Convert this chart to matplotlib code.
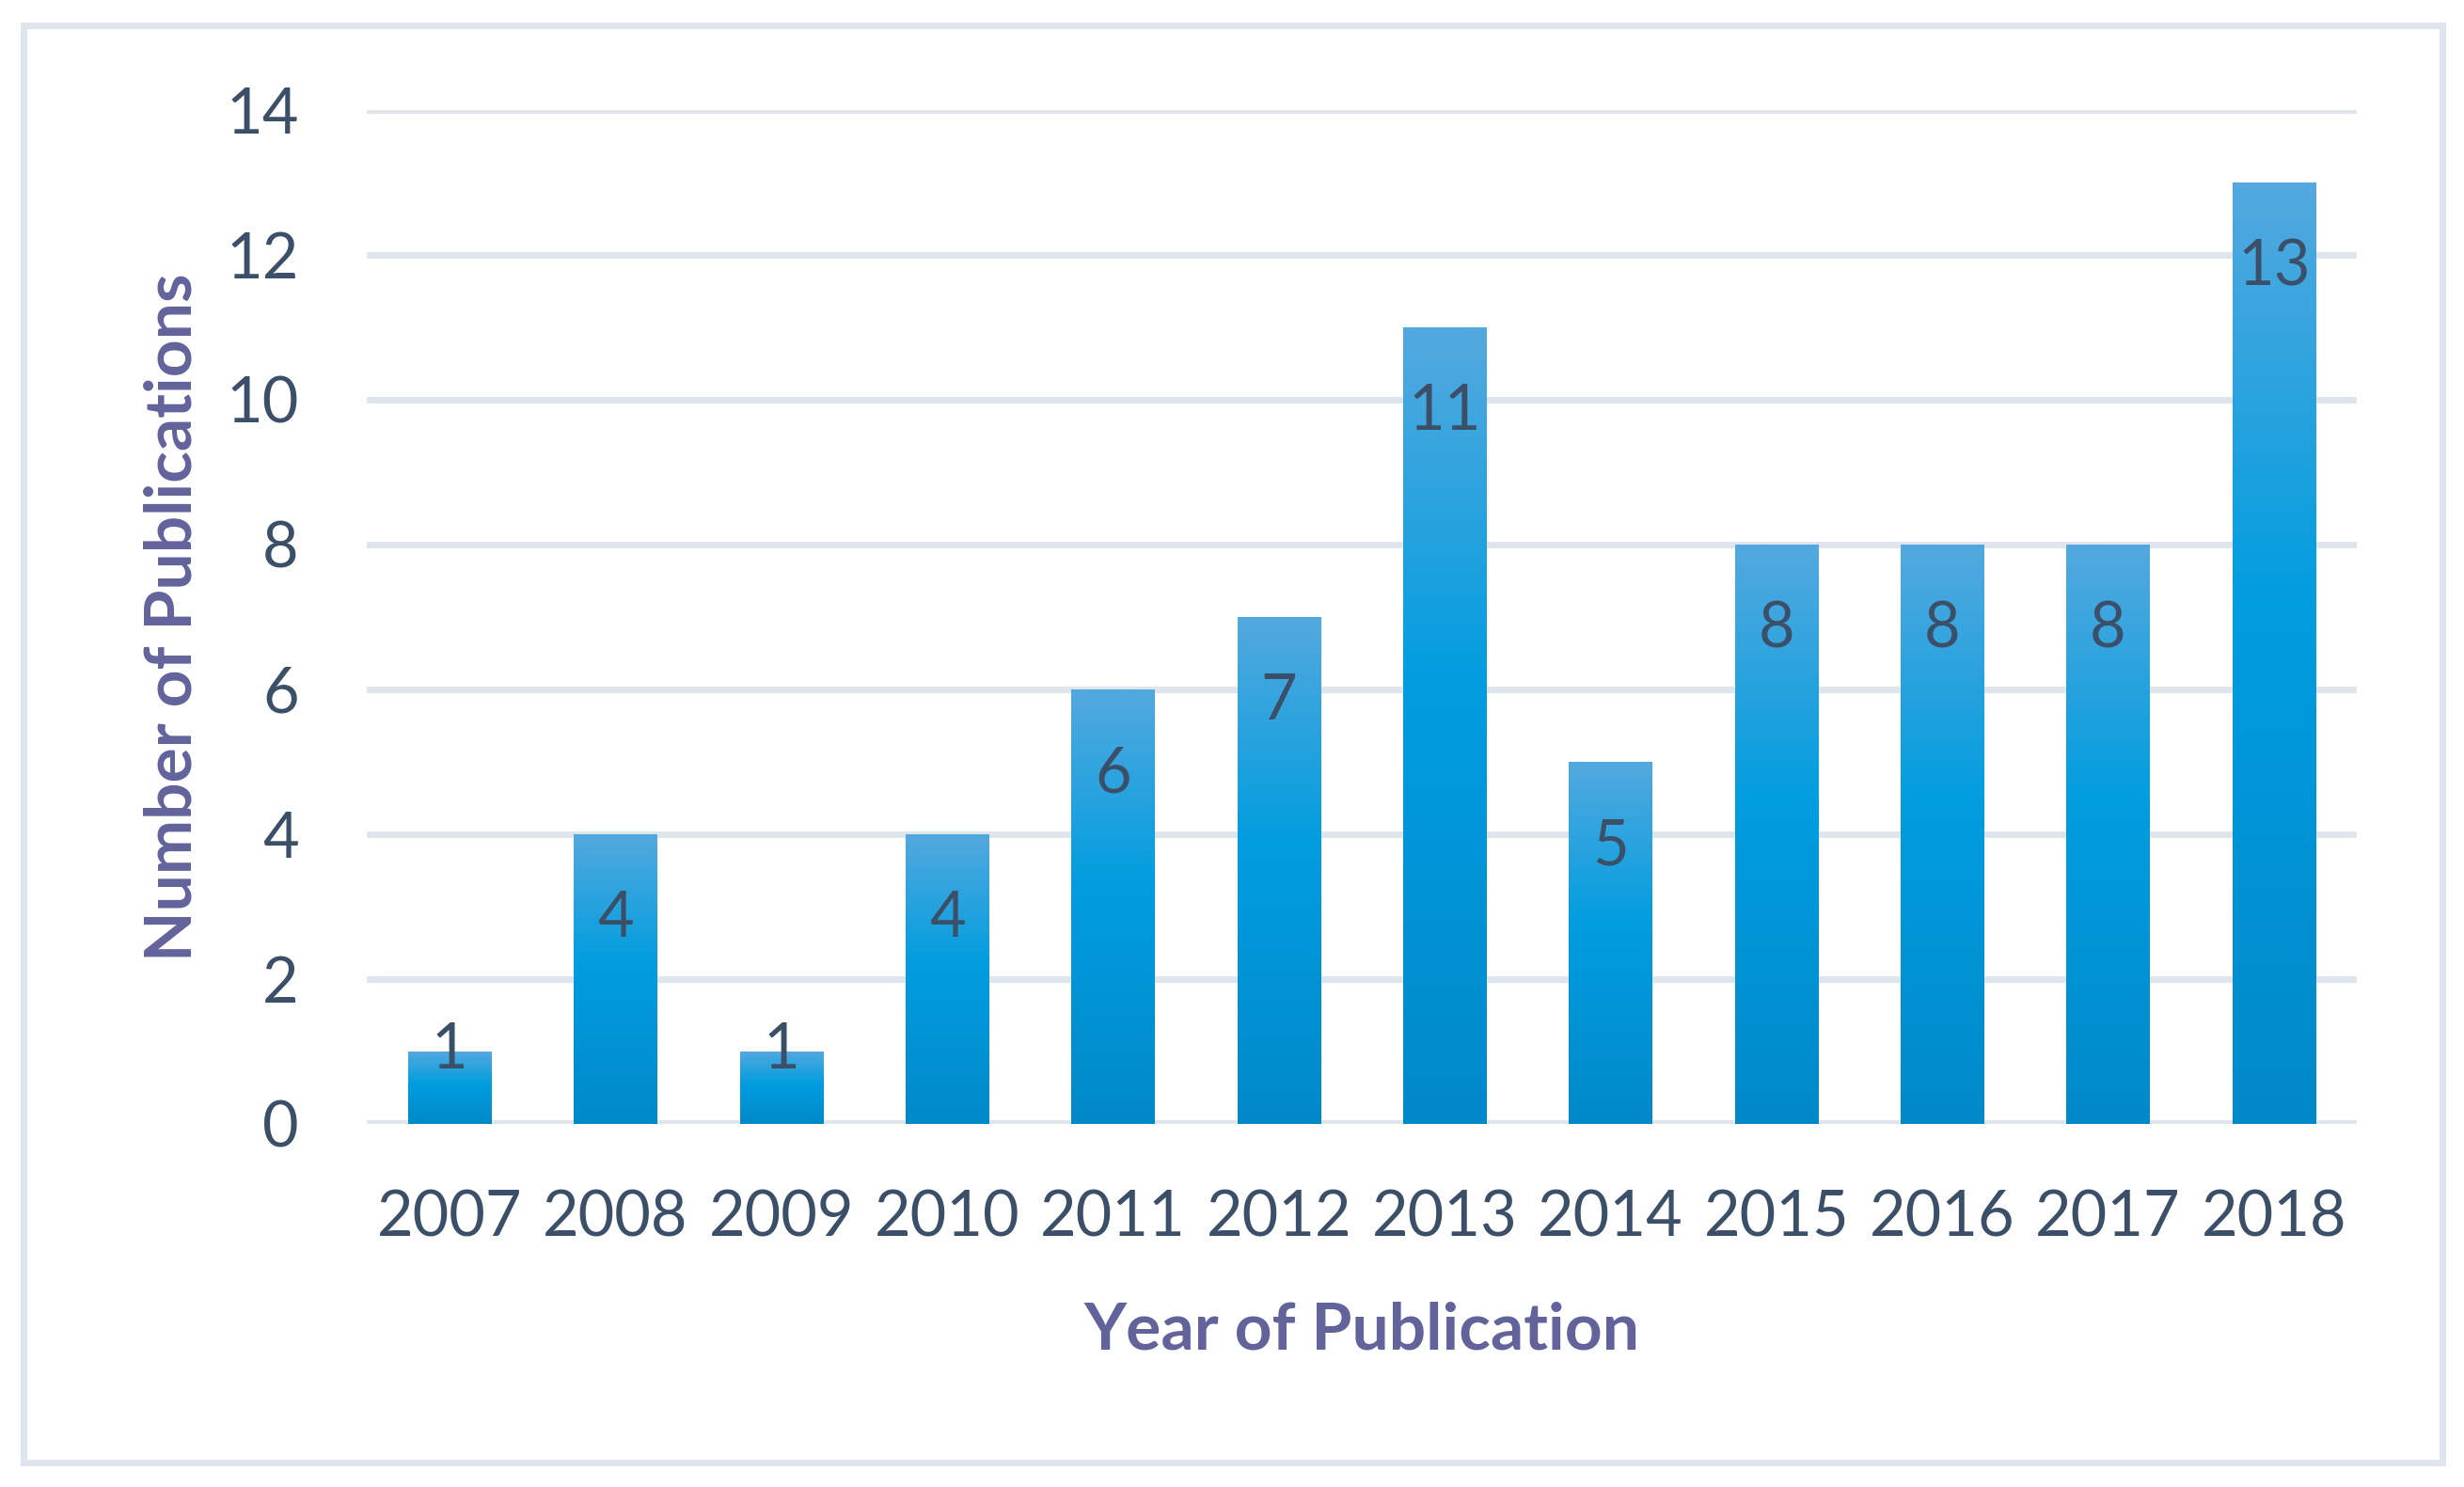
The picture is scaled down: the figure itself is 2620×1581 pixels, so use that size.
import numpy as np
import matplotlib
matplotlib.use('Agg')
import matplotlib.pyplot as plt
from matplotlib.colors import LinearSegmentedColormap
from matplotlib.patches import Rectangle

years = ['2007', '2008', '2009', '2010', '2011', '2012',
         '2013', '2014', '2015', '2016', '2017', '2018']
counts = [1, 4, 1, 4, 6, 7, 11, 5, 8, 8, 8, 13]
y_ticks = [0, 2, 4, 6, 8, 10, 12, 14]
x_title = 'Year of Publication'
y_title = 'Number of Publications'

plt.rcParams['font.family'] = ['Lato', 'DejaVu Sans']

W, H = 2620, 1581
fig = plt.figure(figsize=(W / 100, H / 100), dpi=100)
ax = fig.add_axes([390 / W, 1 - 1195 / H, (2506 - 390) / W, (1195 - 117) / H])

tick_color = '#3B5068'
title_color = '#62639B'
grid_color = '#DEE5EC'

x = np.arange(len(years))
bars = ax.bar(x, counts, width=0.5, color='none', edgecolor='none', zorder=3)

cmap = LinearSegmentedColormap.from_list(
    'barg', [(0.0, '#0089C9'), (0.55, '#009DDF'), (1.0, '#53A9DE')])
grad = np.linspace(0, 1, 256).reshape(-1, 1)
for b in bars:
    x0, y0 = b.get_x(), b.get_y()
    w, h = b.get_width(), b.get_height()
    im = ax.imshow(grad, extent=[x0, x0 + w, y0, y0 + h], origin='lower',
                   cmap=cmap, aspect='auto', zorder=3, interpolation='bilinear')
    im.set_clip_path(b)

ax.set_xlim(-0.5, len(years) - 0.5)
ax.set_ylim(0, 14)
ax.set_yticks(y_ticks)
ax.set_xticks(x)
ax.set_xticklabels(years)
ax.set_axisbelow(True)
ax.yaxis.grid(True, color=grid_color, lw=5.04, zorder=0)
ax.axhline(0, color=grid_color, lw=5.8, zorder=1)
for s in ax.spines.values():
    s.set_visible(False)
ax.tick_params(axis='both', length=0, labelsize=48, labelcolor=tick_color)
ax.tick_params(axis='y', pad=52)
ax.tick_params(axis='x', pad=50)

for xi, v in zip(x, counts):
    off = -78.5 if v >= 3 else -13
    ax.annotate(str(v), xy=(xi, v), xytext=(0, off), textcoords='offset points',
                ha='center', va='baseline', fontsize=48, color=tick_color, zorder=5)

fig.text(1448 / W, 1 - 1415 / H, x_title, ha='center', va='center',
         fontsize=50, fontweight='bold', color=title_color)
fig.text(184 / W, 1 - 656 / H, y_title, ha='center', va='center', rotation=90,
         fontsize=50, fontweight='bold', color=title_color)

fig.patches.append(Rectangle((24.5 / W, 1 - 1555 / H), (2596.5 - 24.5) / W,
                             (1555 - 26.5) / H, transform=fig.transFigure,
                             fill=False, edgecolor=grid_color, lw=5.04))

fig.savefig('out.png', dpi=100, facecolor='white')
